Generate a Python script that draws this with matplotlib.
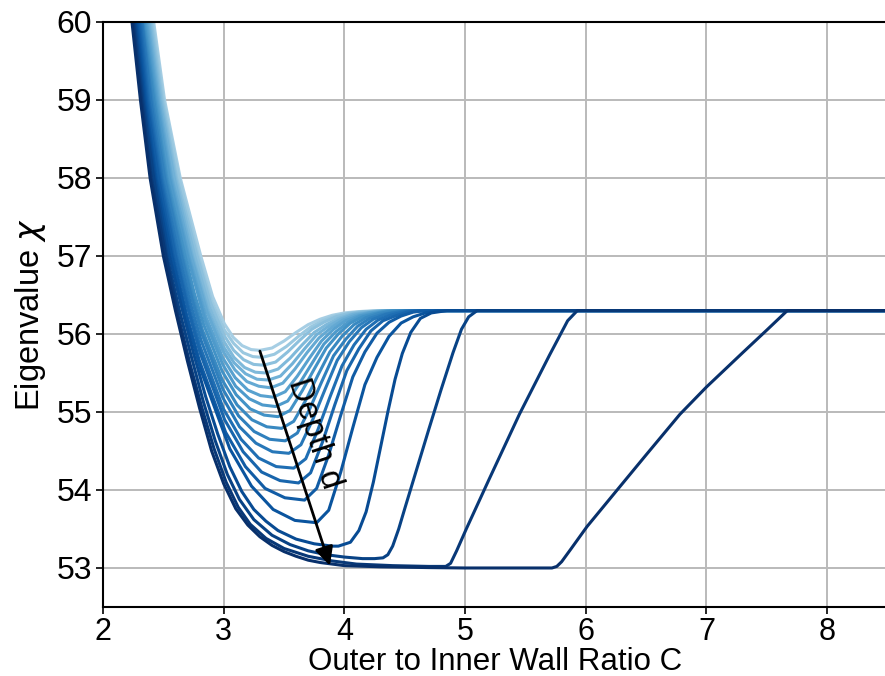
import matplotlib
matplotlib.use("Agg")
import matplotlib.pyplot as plt
import numpy as np

# eigenvalue chi vs outer/inner wall ratio C, one curve per depth d (shallow -> deep)
# points, (C, chi)
d01 = [(2.39, 60.5), (2.42, 60), (2.51, 59), (2.64, 58), (2.81, 57), (2.908, 56.48), (3.006, 56.13),
       (3.08, 55.955), (3.153, 55.85), (3.227, 55.80), (3.30, 55.79), (3.40, 55.82), (3.50, 55.91),
       (3.60, 56.02), (3.70, 56.12), (3.80, 56.19), (3.90, 56.24), (4.00, 56.27), (4.10, 56.285),
       (4.20, 56.295), (4.30, 56.3), (8.5, 56.3)]
d02 = [(2.38, 60.5), (2.41, 60), (2.50, 59), (2.63, 58), (2.79, 57), (2.896, 56.44), (3.002, 56.06),
       (3.082, 55.88), (3.161, 55.76), (3.241, 55.71), (3.32, 55.70), (3.42, 55.74), (3.52, 55.84),
       (3.62, 55.97), (3.72, 56.09), (3.82, 56.17), (3.92, 56.23), (4.02, 56.26), (4.12, 56.28),
       (4.22, 56.29), (4.32, 56.3), (8.5, 56.3)]
d03 = [(2.37, 60.5), (2.40, 60), (2.49, 59), (2.61, 58), (2.78, 57), (2.89, 56.40), (3.0, 55.99),
       (3.083, 55.79), (3.165, 55.67), (3.248, 55.61), (3.33, 55.60), (3.43, 55.64), (3.53, 55.77),
       (3.63, 55.92), (3.73, 56.06), (3.83, 56.15), (3.93, 56.22), (4.03, 56.26), (4.13, 56.28),
       (4.23, 56.29), (4.33, 56.3), (8.5, 56.3)]
d04 = [(2.36, 60.5), (2.39, 60), (2.48, 59), (2.60, 58), (2.76, 57), (2.878, 56.36), (2.996, 55.92),
       (3.085, 55.70), (3.173, 55.57), (3.262, 55.51), (3.35, 55.50), (3.45, 55.55), (3.55, 55.69),
       (3.65, 55.86), (3.75, 56.02), (3.85, 56.12), (3.95, 56.20), (4.05, 56.25), (4.15, 56.28),
       (4.25, 56.29), (4.35, 56.3), (8.5, 56.3)]
d05 = [(2.35, 60.5), (2.38, 60), (2.47, 59), (2.59, 58), (2.74, 57), (2.866, 56.32), (2.992, 55.85),
       (3.087, 55.63), (3.181, 55.49), (3.276, 55.42), (3.37, 55.41), (3.47, 55.46), (3.57, 55.62),
       (3.67, 55.81), (3.77, 55.99), (3.87, 56.10), (3.97, 56.19), (4.07, 56.25), (4.17, 56.27),
       (4.27, 56.29), (4.37, 56.3), (8.5, 56.3)]
d06 = [(2.34, 60.5), (2.37, 60), (2.46, 59), (2.57, 58), (2.73, 57), (2.862, 56.28), (2.994, 55.78),
       (3.093, 55.54), (3.192, 55.39), (3.291, 55.33), (3.39, 55.31), (3.49, 55.37), (3.59, 55.55),
       (3.69, 55.76), (3.79, 55.95), (3.89, 56.08), (3.99, 56.18), (4.09, 56.24), (4.19, 56.27),
       (4.29, 56.29), (4.39, 56.3), (8.5, 56.3)]
d07 = [(2.33, 60.5), (2.36, 60), (2.45, 59), (2.56, 58), (2.71, 57), (2.85, 56.23), (2.99, 55.70),
       (3.095, 55.44), (3.20, 55.28), (3.305, 55.21), (3.41, 55.19), (3.51, 55.26), (3.61, 55.46),
       (3.71, 55.69), (3.81, 55.91), (3.91, 56.06), (4.01, 56.17), (4.11, 56.23), (4.21, 56.27),
       (4.31, 56.29), (4.41, 56.3), (8.5, 56.3)]
d08 = [(2.32, 60.5), (2.35, 60), (2.44, 59), (2.55, 58), (2.70, 57), (2.846, 56.17), (2.992, 55.61),
       (3.099, 55.33), (3.211, 55.17), (3.321, 55.09), (3.43, 55.07), (3.53, 55.14), (3.63, 55.37),
       (3.73, 55.62), (3.83, 55.87), (3.93, 56.03), (4.03, 56.15), (4.13, 56.23), (4.23, 56.26),
       (4.33, 56.29), (4.43, 56.3), (8.5, 56.3)]
d09 = [(2.31, 60.5), (2.34, 60), (2.43, 59), (2.53, 58), (2.68, 57), (2.757, 56.52), (2.834, 56.12),
       (2.988, 55.52), (3.104, 55.22), (3.219, 55.04), (3.335, 54.96), (3.45, 54.94), (3.55, 55.02),
       (3.65, 55.27), (3.75, 55.55), (3.85, 55.82), (3.95, 56.0), (4.05, 56.14), (4.15, 56.22),
       (4.25, 56.26), (4.35, 56.29), (4.45, 56.3), (8.5, 56.3)]
d10 = [(2.30, 60.5), (2.33, 60), (2.42, 59), (2.52, 58), (2.66, 57), (2.742, 56.49), (2.824, 56.05),
       (2.988, 55.41), (3.111, 55.09), (3.234, 54.90), (3.357, 54.81), (3.48, 54.79), (3.58, 54.88),
       (3.68, 55.15), (3.78, 55.47), (3.88, 55.77), (3.98, 55.97), (4.08, 56.12), (4.18, 56.21),
       (4.28, 56.26), (4.38, 56.29), (4.48, 56.3), (8.5, 56.3)]
d11 = [(2.295, 60.5), (2.325, 60), (2.405, 59), (2.51, 58), (2.65, 57), (2.736, 56.45), (2.822, 55.99),
       (2.994, 55.29), (3.123, 54.95), (3.252, 54.75), (3.381, 54.65), (3.51, 54.63), (3.61, 54.73),
       (3.71, 55.03), (3.81, 55.38), (3.91, 55.72), (4.01, 55.93), (4.11, 56.10), (4.21, 56.20),
       (4.31, 56.25), (4.41, 56.28), (4.51, 56.3), (8.5, 56.3)]
d12 = [(2.29, 60.5), (2.32, 60), (2.395, 59), (2.49, 58), (2.63, 57), (2.721, 56.41), (2.812, 55.92),
       (2.994, 55.18), (3.131, 54.81), (3.267, 54.60), (3.404, 54.49), (3.54, 54.47), (3.64, 54.58),
       (3.74, 54.91), (3.84, 55.29), (3.94, 55.66), (4.04, 55.90), (4.14, 56.08), (4.24, 56.19),
       (4.34, 56.25), (4.44, 56.28), (4.54, 56.3), (8.5, 56.3)]
d13 = [(2.28, 60.5), (2.31, 60), (2.38, 59), (2.48, 58), (2.61, 57), (2.707, 56.37), (2.804, 55.84),
       (2.998, 55.04), (3.144, 54.65), (3.289, 54.41), (3.435, 54.30), (3.58, 54.28), (3.68, 54.40),
       (3.78, 54.77), (3.88, 55.19), (3.98, 55.59), (4.08, 55.86), (4.18, 56.06), (4.28, 56.18),
       (4.38, 56.24), (4.48, 56.28), (4.58, 56.3), (8.5, 56.3)]
d14 = [(2.27, 60.5), (2.30, 60), (2.37, 59), (2.47, 58), (2.60, 57), (2.702, 56.33), (2.804, 55.76),
       (3.008, 54.90), (3.161, 54.49), (3.314, 54.23), (3.467, 54.12), (3.62, 54.09), (3.72, 54.22),
       (3.82, 54.62), (3.92, 55.09), (4.02, 55.53), (4.12, 55.81), (4.22, 56.04), (4.32, 56.17),
       (4.42, 56.23), (4.52, 56.28), (4.62, 56.3), (8.5, 56.3)]
d15 = [(2.26, 60.5), (2.29, 60), (2.36, 59), (2.46, 58), (2.58, 57), (2.689, 56.27), (2.798, 55.66),
       (3.016, 54.74), (3.18, 54.30), (3.343, 54.02), (3.507, 53.90), (3.67, 53.87), (3.77, 54.02),
       (3.87, 54.45), (3.97, 54.96), (4.07, 55.45), (4.17, 55.77), (4.27, 56.01), (4.37, 56.15),
       (4.47, 56.23), (4.57, 56.28), (4.67, 56.3), (8.5, 56.3)]
d16 = [(2.25, 60.5), (2.28, 60), (2.35, 59), (2.44, 58), (2.57, 57), (2.69, 56.21), (2.81, 55.54),
       (3.05, 54.53), (3.23, 54.05), (3.41, 53.75), (3.59, 53.61), (3.77, 53.58), (3.87, 53.74),
       (3.97, 54.23), (4.07, 54.80), (4.17, 55.35), (4.27, 55.70), (4.37, 55.97), (4.47, 56.14),
       (4.57, 56.22), (4.67, 56.27), (4.77, 56.3), (8.5, 56.3)]
d17 = [(2.24, 60.5), (2.27, 60), (2.34, 59), (2.43, 58), (2.55, 57), (2.65, 56.35), (2.75, 55.75),
       (2.85, 55.2), (2.95, 54.72), (3.05, 54.3), (3.15, 53.98), (3.25, 53.75), (3.35, 53.6),
       (3.45, 53.48), (3.6, 53.37), (3.75, 53.31), (3.9, 53.28), (3.95, 53.28), (4.05, 53.33),
       (4.12, 53.48), (4.18, 53.72), (4.24, 54.1), (4.30, 54.55), (4.36, 55.0), (4.42, 55.42),
       (4.48, 55.75), (4.55, 56.02), (4.63, 56.2), (4.72, 56.27), (4.85, 56.3), (8.5, 56.3)]
d18 = [(2.23, 60.5), (2.26, 60), (2.33, 59), (2.42, 58), (2.53, 57), (2.63, 56.32), (2.73, 55.72),
       (2.83, 55.14), (2.93, 54.63), (3.03, 54.2), (3.13, 53.88), (3.25, 53.62), (3.4, 53.42),
       (3.55, 53.3), (3.7, 53.22), (3.85, 53.17), (4.0, 53.14), (4.15, 53.12), (4.25, 53.12),
       (4.32, 53.13), (4.36, 53.17), (4.40, 53.28), (4.45, 53.5), (4.5, 53.76), (4.6, 54.27),
       (4.7, 54.78), (4.8, 55.28), (4.9, 55.76), (4.97, 56.06), (5.03, 56.22), (5.1, 56.3), (8.5, 56.3)]
d19 = [(2.22, 60.5), (2.25, 60), (2.32, 59), (2.40, 58), (2.52, 57), (2.62, 56.25), (2.72, 55.62),
       (2.82, 55.05), (2.92, 54.53), (3.02, 54.1), (3.12, 53.78), (3.22, 53.56), (3.35, 53.38),
       (3.5, 53.25), (3.7, 53.15), (3.9, 53.09), (4.1, 53.05), (4.4, 53.03), (4.7, 53.02),
       (4.84, 53.02), (4.88, 53.06), (4.93, 53.22), (5.01, 53.5), (5.2, 54.14), (5.45, 54.97),
       (5.7, 55.73), (5.85, 56.17), (5.93, 56.3), (8.5, 56.3)]
d20 = [(2.21, 60.5), (2.24, 60), (2.31, 59), (2.39, 58), (2.50, 57), (2.6, 56.3), (2.7, 55.65),
       (2.8, 55.05), (2.9, 54.5), (3.0, 54.08), (3.1, 53.76), (3.2, 53.55), (3.3, 53.4), (3.4, 53.29),
       (3.5, 53.21), (3.6, 53.15), (3.7, 53.1), (3.8, 53.07), (3.9, 53.05), (4.0, 53.03),
       (4.3, 53.015), (4.7, 53.005), (5.0, 53.0), (5.5, 53.0), (5.72, 53.0), (5.76, 53.02),
       (5.8, 53.08), (5.88, 53.25), (6.01, 53.53), (6.26, 54.0), (6.5, 54.45), (6.78, 54.97),
       (7.0, 55.32), (7.3, 55.76), (7.5, 56.05), (7.67, 56.3), (8.5, 56.3)]

curves = [d01, d02, d03, d04, d05, d06, d07, d08, d09, d10,
          d11, d12, d13, d14, d15, d16, d17, d18, d19, d20]

plt.rcParams['font.family'] = ['Liberation Sans', 'DejaVu Sans']
plt.rcParams['mathtext.fontset'] = 'dejavusans'

fig = plt.figure(figsize=(8.85, 6.76), dpi=100)
# right edge sits just past the canvas, so the right spine is cut off like in the reference
ax = fig.add_axes([0.1164, 0.1021, 0.8864, 0.8654])

colors = plt.cm.Blues(np.linspace(0.35, 1.0, len(curves)))
for pts, col in zip(curves, colors):
    cx, cy = zip(*pts)
    ax.plot(cx, cy, color=col, lw=2.2, solid_joinstyle='round', solid_capstyle='round')

ax.set_xlim(2, 8.5)
ax.set_ylim(52.5, 60)
ax.set_xticks(range(2, 9))
ax.set_yticks(range(53, 61))
ax.grid(True, color='#bababa', lw=1.4)
ax.set_axisbelow(True)
ax.tick_params(labelsize=23, direction='out', length=5, width=1.2, pad=3)
ax.tick_params(axis='x', labelsize=22, pad=2)
for s in ax.spines.values():
    s.set_linewidth(1.5)

ax.set_xlabel('Outer to Inner Wall Ratio C', fontsize=22.5, labelpad=0)
ax.set_ylabel('Eigenvalue $\\chi$', fontsize=23.5, labelpad=6)

# depth arrow
ax.annotate('', xy=(3.88, 53.03), xytext=(3.30, 55.78),
            arrowprops=dict(arrowstyle='-|>', color='k', lw=2, mutation_scale=28,
                            shrinkA=0, shrinkB=0))
ax.text(3.75, 54.72, 'Depth d', rotation=-72, ha='center', va='center', fontsize=23.5)

fig.savefig('out.png', dpi=100)
